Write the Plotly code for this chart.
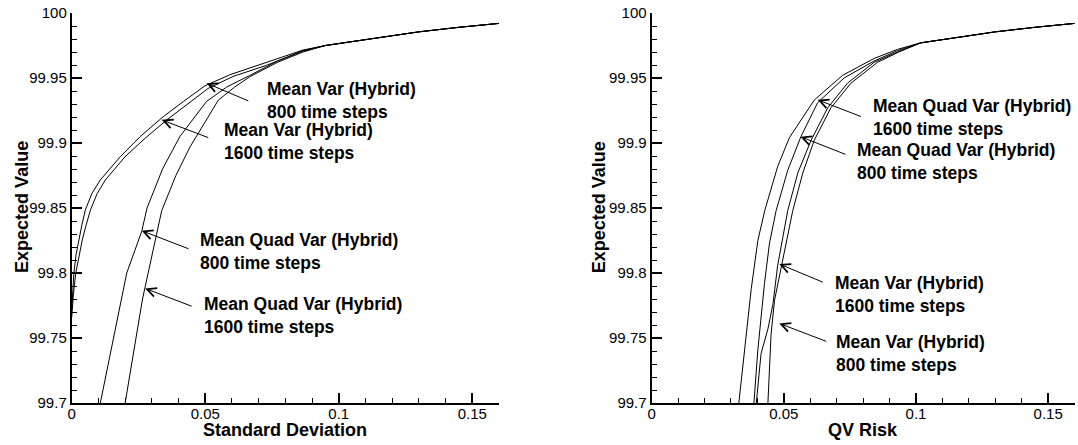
import plotly.graph_objects as go

# ---------------- data ----------------
# Left panel: Expected Value vs Standard Deviation
sd_mv800_x = [0.0, 0.0003, 0.0008, 0.0016, 0.0027, 0.0038, 0.0051, 0.0075, 0.0107, 0.0182, 0.0256, 0.0343, 0.0418,
              0.0499, 0.0592, 0.0716, 0.0866, 0.095, 0.105, 0.115, 0.13, 0.145, 0.16]
sd_mv800_y = [99.772, 99.785, 99.800, 99.814, 99.826, 99.837, 99.8485, 99.861, 99.8716, 99.8895, 99.9049, 99.9203,
              99.9319, 99.9440, 99.9525, 99.9609, 99.9715, 99.975, 99.978, 99.981, 99.9855, 99.989, 99.992]
sd_mv1600_x = [0.0, 0.0006, 0.0015, 0.0027, 0.0040, 0.0054, 0.0070, 0.0095, 0.0126, 0.0200, 0.0275, 0.0356, 0.0430,
               0.0511, 0.0604, 0.0729, 0.0866, 0.095, 0.105, 0.115, 0.13, 0.145, 0.16]
sd_mv1600_y = [99.766, 99.783, 99.800, 99.814, 99.826, 99.837, 99.8485, 99.861, 99.8716, 99.8895, 99.9037, 99.9178,
               99.9293, 99.9420, 99.9512, 99.9597, 99.9708, 99.975, 99.978, 99.981, 99.9855, 99.989, 99.992]
sd_qv800_x = [0.0107, 0.0206, 0.0262, 0.0282, 0.0340, 0.0405, 0.0505, 0.0580, 0.0667, 0.0770, 0.0866, 0.095, 0.105,
              0.115, 0.13, 0.145, 0.16]
sd_qv800_y = [99.700, 99.800, 99.832, 99.850, 99.880, 99.905, 99.932, 99.943, 99.952, 99.963, 99.971, 99.975, 99.978,
              99.981, 99.9855, 99.989, 99.992]
sd_qv1600_x = [0.0200, 0.0265, 0.0337, 0.0390, 0.0443, 0.0549, 0.0610, 0.0667, 0.0770, 0.0866, 0.095, 0.105, 0.115,
               0.13, 0.145, 0.16]
sd_qv1600_y = [99.700, 99.780, 99.848, 99.875, 99.897, 99.933, 99.943, 99.951, 99.962, 99.970, 99.975, 99.978, 99.981,
               99.9855, 99.989, 99.992]

# Right panel: Expected Value vs QV Risk
qv_qv1600_x = [0.0330, 0.0377, 0.0402, 0.0428, 0.0477, 0.0521, 0.0615, 0.0722, 0.0841, 0.0930, 0.1017, 0.115, 0.13,
               0.145, 0.16]
qv_qv1600_y = [99.700, 99.788, 99.825, 99.848, 99.882, 99.904, 99.933, 99.952, 99.965, 99.972, 99.977, 99.981,
               99.9855, 99.989, 99.992]
qv_qv800_x = [0.0387, 0.0402, 0.0427, 0.0446, 0.0471, 0.0515, 0.0565, 0.0628, 0.0728, 0.0841, 0.0930, 0.1017, 0.115,
              0.13, 0.145, 0.16]
qv_qv800_y = [99.700, 99.741, 99.792, 99.823, 99.848, 99.879, 99.905, 99.931, 99.950, 99.963, 99.971, 99.977, 99.981,
              99.9855, 99.989, 99.992]
qv_mv1600_x = [0.0396, 0.0414, 0.0440, 0.0459, 0.0477, 0.0502, 0.0515, 0.0553, 0.0603, 0.0666, 0.0741, 0.0841, 0.0930,
               0.1017, 0.115, 0.13, 0.145, 0.16]
qv_mv1600_y = [99.700, 99.738, 99.757, 99.776, 99.806, 99.833, 99.848, 99.877, 99.902, 99.927, 99.946, 99.962, 99.970,
               99.977, 99.981, 99.9855, 99.989, 99.992]
qv_mv800_x = [0.0440, 0.0452, 0.0465, 0.0490, 0.0509, 0.0534, 0.0572, 0.0615, 0.0678, 0.0754, 0.0854, 0.0935, 0.1017,
              0.115, 0.13, 0.145, 0.16]
qv_mv800_y = [99.700, 99.753, 99.779, 99.805, 99.823, 99.848, 99.877, 99.902, 99.927, 99.946, 99.962, 99.970, 99.977,
              99.981, 99.9855, 99.989, 99.992]

x_tickvals = [0, 0.05, 0.1, 0.15]
x_ticktext = ["0", "0.05", "0.1", "0.15"]
y_tickvals = [99.7, 99.75, 99.8, 99.85, 99.9, 99.95, 100]
y_ticktext = ["99.7", "99.75", "99.8", "99.85", "99.9", "99.95", "100"]

# label text, arrow tip (x, y), arrow tail (x, y), text left-anchor (x, y)
left_labels = [
    ("Mean Var (Hybrid)<br>800 time steps", (0.0505, 99.946), (0.0667, 99.9319), (0.0723, 99.9330)),
    ("Mean Var (Hybrid)<br>1600 time steps", (0.0337, 99.9178), (0.0517, 99.9037), (0.0561, 99.9010)),
    ("Mean Quad Var (Hybrid)<br>800 time steps", (0.0262, 99.8325), (0.0443, 99.8182), (0.0474, 99.8163)),
    ("Mean Quad Var (Hybrid)<br>1600 time steps", (0.0275, 99.7881), (0.0455, 99.7740), (0.0486, 99.7672)),
]
right_labels = [
    ("Mean Quad Var (Hybrid)<br>1600 time steps", (0.0628, 99.9332), (0.0798, 99.9199), (0.0829, 99.9194)),
    ("Mean Quad Var (Hybrid)<br>800 time steps", (0.0563, 99.9049), (0.0739, 99.8908), (0.0769, 99.8860)),
    ("Mean Var (Hybrid)<br>1600 time steps", (0.0483, 99.8069), (0.0653, 99.7925), (0.0685, 99.7837)),
    ("Mean Var (Hybrid)<br>800 time steps", (0.0483, 99.7612), (0.0666, 99.7470), (0.0691, 99.7381)),
]

FONT = "Liberation Sans, Arial, Helvetica, sans-serif"

fig = go.Figure()
line = dict(color="black", width=1)
for xs, ys, name in [(sd_mv800_x, sd_mv800_y, "MV 800"), (sd_mv1600_x, sd_mv1600_y, "MV 1600"),
                     (sd_qv800_x, sd_qv800_y, "QV 800"), (sd_qv1600_x, sd_qv1600_y, "QV 1600")]:
    fig.add_trace(go.Scatter(x=xs, y=ys, mode="lines", line=line, name=name, xaxis="x", yaxis="y"))
for xs, ys, name in [(qv_qv1600_x, qv_qv1600_y, "QV 1600"), (qv_qv800_x, qv_qv800_y, "QV 800"),
                     (qv_mv1600_x, qv_mv1600_y, "MV 1600"), (qv_mv800_x, qv_mv800_y, "MV 800")]:
    fig.add_trace(go.Scatter(x=xs, y=ys, mode="lines", line=line, name=name, xaxis="x2", yaxis="y2"))

W, H = 1078, 445
ML, MR, MT, MB = 0, 0, 13, 42


def xaxis_cfg(d0, d1, anchor):
    return dict(domain=[d0 / W, d1 / W], anchor=anchor, range=[0, 0.16], showgrid=False, zeroline=False,
                showline=True, linecolor="black", linewidth=2, ticks="inside", ticklen=10, tickwidth=1.5,
                tickcolor="black", tickvals=x_tickvals, ticktext=x_ticktext, ticklabelstandoff=-4,
                tickfont=dict(family=FONT, size=15, color="black"),
                minor=dict(ticks="inside", ticklen=5, tickwidth=1, tickcolor="black", dtick=0.01, tick0=0,
                           showgrid=False))


def yaxis_cfg(anchor):
    return dict(domain=[0, 1], anchor=anchor, range=[99.7, 100], showgrid=False, zeroline=False,
                showline=True, linecolor="black", linewidth=2, ticks="inside", ticklen=10, tickwidth=1.5,
                tickcolor="black", tickvals=y_tickvals, ticktext=y_ticktext,
                tickfont=dict(family=FONT, size=15, color="black"),
                minor=dict(ticks="inside", ticklen=5, tickwidth=1, tickcolor="black", dtick=0.01, tick0=99.7,
                           showgrid=False))


fig.update_layout(
    width=W, height=H, margin=dict(l=ML, r=MR, t=MT, b=MB),
    paper_bgcolor="white", plot_bgcolor="white", showlegend=False,
    font=dict(family=FONT, color="black"),
    xaxis=xaxis_cfg(68, 496.8, "y"), yaxis=yaxis_cfg("x"),
    xaxis2=xaxis_cfg(650, 1074.6, "y2"), yaxis2=yaxis_cfg("x2"),
)

annos = []
for labels, xr, yr in [(left_labels, "x", "y"), (right_labels, "x2", "y2")]:
    for text, tip, tail, pos in labels:
        annos.append(dict(x=tip[0], y=tip[1], ax=tail[0], ay=tail[1], xref=xr, yref=yr, axref=xr, ayref=yr,
                          text="", showarrow=True, arrowhead=5, arrowsize=1.8, arrowwidth=1,
                          arrowcolor="black", standoff=0, startstandoff=0))
        annos.append(dict(x=pos[0], y=pos[1], xref=xr, yref=yr, text="<b>" + text + "</b>", showarrow=False,
                          xanchor="left", yanchor="middle", align="left",
                          font=dict(family=FONT, size=17.5, color="black")))

# axis titles
title_font = dict(family=FONT, size=18, color="black")
annos += [
    dict(x=(68 + 496.8) / 2 / W, y=-0.069, xref="paper", yref="paper", text="<b>Standard Deviation</b>",
         showarrow=False, xanchor="center", yanchor="middle", font=title_font),
    dict(x=(650 + 1074.6) / 2 / W, y=-0.069, xref="paper", yref="paper", text="<b>QV Risk</b>", showarrow=False,
         xanchor="center", yanchor="middle", font=title_font),
    dict(x=18 / W, y=0.5026, xref="paper", yref="paper", text="<b>Expected Value</b>", showarrow=False,
         textangle=-90, xanchor="center", yanchor="middle", font=title_font),
    dict(x=597.5 / W, y=0.5026, xref="paper", yref="paper", text="<b>Expected Value</b>", showarrow=False,
         textangle=-90, xanchor="center", yanchor="middle", font=title_font),
]
fig.update_layout(annotations=annos)

fig.write_html("out.html", config={"displayModeBar": False},
               post_script="document.body.style.margin='0px';document.body.style.overflow='hidden';")
